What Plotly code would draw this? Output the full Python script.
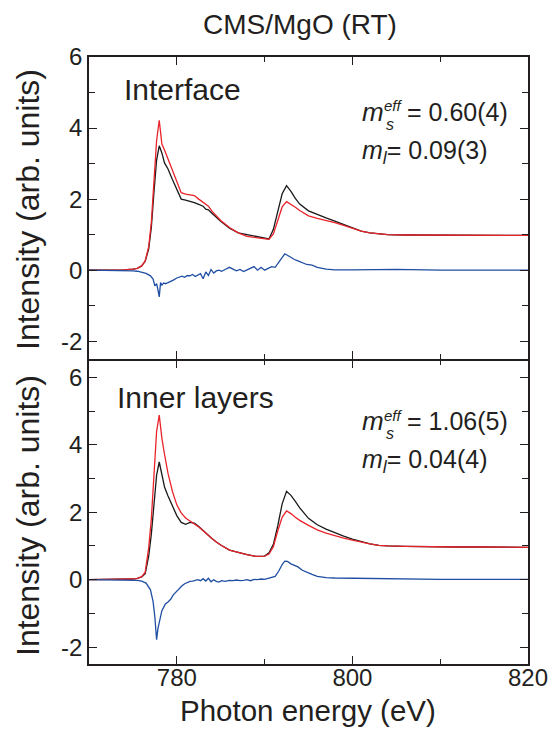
import plotly.graph_objects as go

# ---------------- data ----------------
energy = [770, 772, 774, 775, 775.5, 776, 776.4, 776.8, 777.1, 777.4,
          777.7, 778.0, 778.3, 778.6, 779.0, 779.5, 780.0, 780.5, 781.0, 781.5,
          782.0, 782.5, 783.0, 783.3, 783.6, 784.0, 784.5, 785.0, 786.0, 787.0,
          788.0, 789.0, 790.0, 790.5, 791.0, 791.5, 792.0, 792.5, 793.0, 793.5,
          794.0, 795.0, 796.0, 797.0, 798.0, 799.0, 800.0, 801.0, 802.0, 803.0,
          804.0, 806.0, 808.0, 810.0, 812.0, 815.0, 818.0, 820.0]

interface_black = [0.0, 0.0, 0.01, 0.03, 0.05, 0.12, 0.25, 0.6, 1.2, 2.2,
                   3.1, 3.5, 3.3, 3.02, 2.85, 2.55, 2.25, 2.0, 1.97, 1.94,
                   1.9, 1.85, 1.8, 1.72, 1.7, 1.6, 1.48, 1.38, 1.18, 1.05,
                   1.0, 0.95, 0.9, 0.88, 1.15, 1.65, 2.15, 2.38, 2.22, 2.02,
                   1.86, 1.67, 1.56, 1.47, 1.38, 1.28, 1.18, 1.1, 1.05, 1.02,
                   1.0, 0.99, 0.99, 1.0, 0.99, 0.99, 0.98, 0.98]

interface_red = [0.0, 0.0, 0.01, 0.03, 0.05, 0.12, 0.26, 0.66, 1.35, 2.5,
                 3.65, 4.22, 3.55, 3.38, 3.12, 2.82, 2.5, 2.18, 2.14, 2.12,
                 2.1, 2.0, 1.92, 1.85, 1.8, 1.66, 1.52, 1.4, 1.2, 1.05,
                 0.95, 0.92, 0.87, 0.87, 1.02, 1.42, 1.78, 1.93, 1.86, 1.77,
                 1.68, 1.53, 1.46, 1.41, 1.34, 1.26, 1.17, 1.1, 1.05, 1.02,
                 1.0, 0.99, 0.99, 1.0, 0.99, 0.99, 0.98, 0.98]

inner_black = [0.0, 0.0, 0.0, 0.02, 0.04, 0.08, 0.18, 0.7, 1.35, 2.35,
               3.1, 3.49, 3.15, 2.75, 2.48, 2.2, 1.9, 1.7, 1.64, 1.7,
               1.68, 1.58, 1.45, 1.38, 1.3, 1.22, 1.12, 1.03, 0.88, 0.8,
               0.74, 0.69, 0.7, 0.8, 1.05, 1.6, 2.25, 2.62, 2.5, 2.32,
               2.13, 1.82, 1.63, 1.5, 1.39, 1.29, 1.2, 1.12, 1.06, 1.02,
               1.0, 0.99, 0.98, 0.98, 0.97, 0.97, 0.96, 0.96]

inner_red = [0.0, 0.0, 0.0, 0.02, 0.04, 0.09, 0.22, 0.95, 1.8, 3.1,
             4.4, 4.88, 4.2, 3.72, 3.15, 2.62, 2.22, 1.98, 1.83, 1.74,
             1.66, 1.56, 1.45, 1.38, 1.3, 1.22, 1.12, 1.03, 0.88, 0.8,
             0.74, 0.69, 0.7, 0.76, 0.98, 1.45, 1.85, 2.04, 1.96, 1.85,
             1.76, 1.61, 1.48, 1.38, 1.3, 1.23, 1.17, 1.11, 1.06, 1.02,
             1.0, 0.99, 0.98, 0.98, 0.97, 0.97, 0.96, 0.96]

energy_diff = [770, 772, 774, 775, 775.5, 776, 776.5, 777.0, 777.3, 777.5,
               777.7, 777.85, 778.0, 778.15, 778.3, 778.5, 778.7, 779.0, 779.3, 779.6,
               780.0, 780.3, 780.6, 780.9, 781.2, 781.5, 781.8, 782.1, 782.4, 782.7,
               783.0, 783.3, 783.6, 783.9, 784.2, 784.5, 784.8, 785.1, 785.5, 786.0,
               786.4, 786.8, 787.2, 787.6, 788.0, 788.4, 788.8, 789.2, 789.6, 790.0,
               790.4, 790.8, 791.2, 791.6, 792.0, 792.3, 792.6, 793.0, 793.4, 793.8,
               794.3, 794.8, 795.4, 796.0, 797.0, 798.0, 800.0, 805.0, 810.0, 815.0,
               820.0]

interface_xmcd = [0.0, 0.0, -0.01, -0.02, -0.03, -0.05, -0.09, -0.16, -0.25, -0.44,
                  -0.38, -0.55, -0.75, -0.35, -0.42, -0.36, -0.38, -0.35, -0.32, -0.28,
                  -0.22, -0.2, -0.17, -0.2, -0.15, -0.16, -0.12, -0.18, -0.13, -0.1,
                  -0.24, -0.05, -0.15, 0.02, -0.08, -0.02, 0.0, -0.03, 0.02, 0.08,
                  0.03, -0.02, 0.02, -0.04, 0.01, 0.05, 0.1, 0.0, 0.08, 0.0,
                  0.04, 0.1, 0.08, 0.22, 0.38, 0.46, 0.42, 0.35, 0.3, 0.26,
                  0.21, 0.16, 0.14, 0.08, 0.03, 0.01, 0.01, 0.02, 0.0, 0.01,
                  0.0]

inner_xmcd = [0.0, 0.0, 0.0, -0.01, -0.02, -0.04, -0.1, -0.3, -0.65, -1.1,
              -1.78, -1.45, -1.28, -1.05, -0.92, -0.82, -0.72, -0.66, -0.58, -0.45,
              -0.33, -0.24, -0.18, -0.12, -0.08, -0.05, -0.04, -0.02, 0.0, -0.03,
              0.03, -0.04, 0.04, -0.06, 0.0, -0.05, -0.07, -0.03, -0.05, -0.02,
              -0.03, -0.01, -0.03, -0.02, 0.0, -0.03, 0.01, 0.0, 0.02, 0.01,
              0.04, 0.05, 0.1, 0.25, 0.45, 0.55, 0.54, 0.47, 0.43, 0.38,
              0.28, 0.22, 0.16, 0.1, 0.06, 0.05, 0.04, 0.02, 0.01, 0.01,
              0.01]

x_ticks = [780, 800, 820]
y_ticks = [-2, 0, 2, 4, 6]
y_tick_labels = ["-2", "0", "2", "4", "6"]

# ---------------- styling ----------------
FONT = "Liberation Sans, Arial, Helvetica, sans-serif"
INK = "#231f20"
BLACK = "#1a1a1a"
RED = "#e8232a"
BLUE = "#1f4ea3"

W, H = 555, 740
ML, MR, MT, MB = 89, 27, 57, 76
PW, PH = W - ML - MR, H - MT - MB
SPLIT = 0.5
GAP = 1.5 / PH


def px(x, y):
    return (x - ML) / PW, (H - MB - y) / PH


fig = go.Figure()

for xa, ya, blk, red, dif in [("x2", "y2", interface_black, interface_red, interface_xmcd),
                              ("x", "y", inner_black, inner_red, inner_xmcd)]:
    fig.add_trace(go.Scatter(x=energy, y=blk, mode="lines", line=dict(color=BLACK, width=1.3),
                             xaxis=xa, yaxis=ya, showlegend=False))
    fig.add_trace(go.Scatter(x=energy, y=red, mode="lines", line=dict(color=RED, width=1.3),
                             xaxis=xa, yaxis=ya, showlegend=False))
    fig.add_trace(go.Scatter(x=energy_diff, y=dif, mode="lines", line=dict(color=BLUE, width=1.3),
                             xaxis=xa, yaxis=ya, showlegend=False))

axis_common = dict(showline=True, linecolor=INK, linewidth=1.5, mirror="ticks",
                   ticks="inside", ticklen=8, tickwidth=1.3, tickcolor=INK,
                   showgrid=False, zeroline=False, automargin=False,
                   tickfont=dict(family=FONT, size=24, color=INK))
xminor = dict(ticks="inside", ticklen=5, tickwidth=1.3, tickcolor=INK, dtick=10, tick0=770)
yminor = dict(ticks="inside", ticklen=6, tickwidth=1.3, tickcolor=INK, dtick=1, tick0=0)

fig.update_layout(
    width=W, height=H,
    margin=dict(l=ML, r=MR, t=MT, b=MB),
    paper_bgcolor="white", plot_bgcolor="white",
    showlegend=False,
    xaxis=dict(axis_common, range=[770, 820], tickvals=x_ticks, anchor="y",
               ticklabelstandoff=-9, minor=xminor),
    xaxis2=dict(axis_common, range=[770, 820], tickvals=x_ticks, anchor="y2",
                showticklabels=False, minor=xminor),
    yaxis=dict(axis_common, range=[-2.5, 6.5], tickvals=y_ticks, ticktext=y_tick_labels,
               domain=[0, SPLIT], anchor="x", ticklabelstandoff=0, minor=yminor),
    yaxis2=dict(axis_common, range=[-2.5, 6], tickvals=y_ticks, ticktext=y_tick_labels,
                domain=[SPLIT + GAP, 1], anchor="x2", ticklabelstandoff=0, minor=yminor),
)

ann = []


def text(s, x, y, size, xanchor="left", angle=0):
    ax, ay = px(x, y)
    ann.append(dict(text=s, x=ax, y=ay, xref="paper", yref="paper", xanchor=xanchor,
                    yanchor="middle", showarrow=False, textangle=angle,
                    font=dict(family=FONT, size=size, color=INK)))


text("CMS/MgO (RT)", 300, 24, 28, xanchor="center")
text("Photon energy (eV)", 308, 710, 29.5, xanchor="center")
text("Intensity (arb. units)", 28, 210, 32, xanchor="center", angle=-90)
text("Intensity (arb. units)", 28, 516, 32, xanchor="center", angle=-90)
text("Interface", 122, 90, 30)
text("Inner layers", 115, 397, 30)

for (y1, y2, ms, ml) in [(112, 152, "0.60(4)", "0.09(3)"), (421, 461, "1.06(5)", "0.04(4)")]:
    text("<i>m</i>", 360, y1, 26)
    text("<i>eff</i>", 382, y1 - 6, 15)
    text("<i>s</i>", 384, y1 + 12, 16)
    text("= " + ms, 405, y1, 25)
    text("<i>m</i><sub><i>l</i></sub>= " + ml, 360, y2, 25)

fig.update_layout(annotations=ann)
fig.write_html("out.html", config={"displayModeBar": False},
               post_script="document.body.style.margin='0px';")
